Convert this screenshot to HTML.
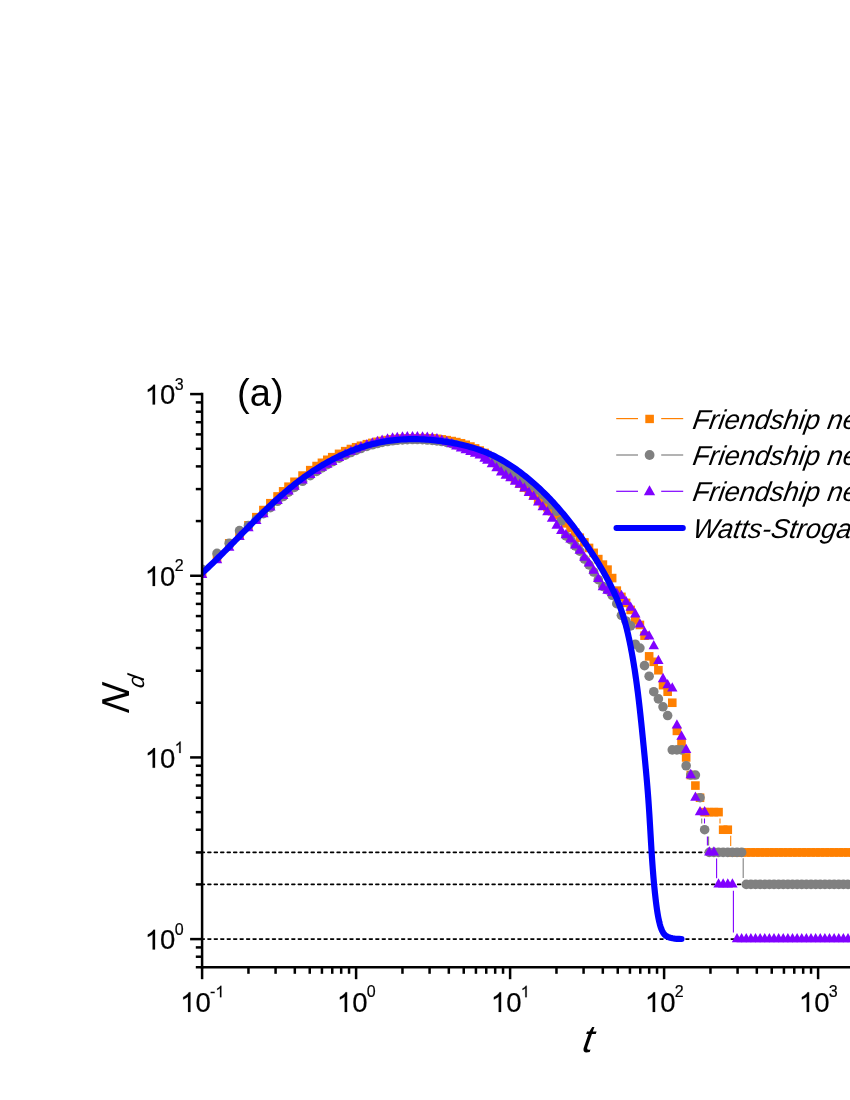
<!DOCTYPE html>
<html><head><meta charset="utf-8"><title>chart</title>
<style>html,body{margin:0;padding:0;background:#fff;overflow:hidden}svg{display:block;will-change:transform;opacity:0.999}</style></head>
<body>
<svg width="850" height="1100" viewBox="0 0 850 1100" font-family="'Liberation Sans', sans-serif">
<rect width="850" height="1100" fill="#fff"/>
<line x1="201.45" x2="850" y1="852.42" y2="852.42" stroke="#000" stroke-width="1.6" stroke-linecap="round" stroke-dasharray="2.9 3.56"/>
<line x1="201.45" x2="850" y1="884.41" y2="884.41" stroke="#000" stroke-width="1.6" stroke-linecap="round" stroke-dasharray="2.9 3.56"/>
<line x1="201.45" x2="850" y1="939.10" y2="939.10" stroke="#000" stroke-width="1.6" stroke-linecap="round" stroke-dasharray="2.9 3.56"/>
<defs><clipPath id="pc"><rect x="202.1" y="380" width="660" height="587.3"/></clipPath></defs>
<g clip-path="url(#pc)">
<line x1="720.0" x2="720.0" y1="818.5" y2="823.4" stroke="#FF8000" stroke-width="1.1"/>
<line x1="730.7" x2="730.7" y1="835.7" y2="846.0" stroke="#FF8000" stroke-width="1.1"/>
<line x1="701.7" x2="701.7" y1="818.5" y2="823.4" stroke="#808080" stroke-width="1.1"/>
<line x1="708.6" x2="708.6" y1="836.5" y2="845.5" stroke="#808080" stroke-width="1.1"/>
<line x1="743.2" x2="743.2" y1="858.3" y2="878.0" stroke="#808080" stroke-width="1.1"/>
<line x1="704.5" x2="704.5" y1="818.5" y2="823.4" stroke="#8000FF" stroke-width="1.1"/>
<line x1="707.4" x2="707.4" y1="836.5" y2="845.5" stroke="#8000FF" stroke-width="1.1"/>
<line x1="716.6" x2="716.6" y1="858.6" y2="878.2" stroke="#8000FF" stroke-width="1.1"/>
<line x1="733.4" x2="733.4" y1="890.8" y2="932.6" stroke="#8000FF" stroke-width="1.1"/>
<g fill="#FF8000">
<rect x="197.80" y="568.78" width="8.6" height="8.6"/>
<rect x="212.72" y="554.11" width="8.6" height="8.6"/>
<rect x="224.92" y="538.99" width="8.6" height="8.6"/>
<rect x="235.23" y="530.32" width="8.6" height="8.6"/>
<rect x="244.16" y="521.03" width="8.6" height="8.6"/>
<rect x="252.04" y="512.88" width="8.6" height="8.6"/>
<rect x="259.08" y="505.76" width="8.6" height="8.6"/>
<rect x="266.06" y="498.92" width="8.6" height="8.6"/>
<rect x="273.25" y="492.13" width="8.6" height="8.6"/>
<rect x="278.86" y="487.05" width="8.6" height="8.6"/>
<rect x="284.21" y="482.40" width="8.6" height="8.6"/>
<rect x="290.18" y="477.48" width="8.6" height="8.6"/>
<rect x="298.25" y="471.28" width="8.6" height="8.6"/>
<rect x="305.97" y="465.85" width="8.6" height="8.6"/>
<rect x="312.30" y="461.75" width="8.6" height="8.6"/>
<rect x="317.64" y="458.52" width="8.6" height="8.6"/>
<rect x="322.99" y="455.50" width="8.6" height="8.6"/>
<rect x="327.95" y="452.89" width="8.6" height="8.6"/>
<rect x="334.75" y="449.57" width="8.6" height="8.6"/>
<rect x="340.93" y="446.87" width="8.6" height="8.6"/>
<rect x="346.59" y="444.71" width="8.6" height="8.6"/>
<rect x="351.80" y="442.95" width="8.6" height="8.6"/>
<rect x="356.64" y="441.49" width="8.6" height="8.6"/>
<rect x="362.59" y="439.90" width="8.6" height="8.6"/>
<rect x="368.05" y="438.61" width="8.6" height="8.6"/>
<rect x="373.10" y="437.54" width="8.6" height="8.6"/>
<rect x="377.79" y="436.65" width="8.6" height="8.6"/>
<rect x="383.23" y="435.78" width="8.6" height="8.6"/>
<rect x="388.27" y="435.15" width="8.6" height="8.6"/>
<rect x="392.94" y="434.70" width="8.6" height="8.6"/>
<rect x="398.16" y="434.34" width="8.6" height="8.6"/>
<rect x="403.00" y="434.14" width="8.6" height="8.6"/>
<rect x="408.23" y="434.04" width="8.6" height="8.6"/>
<rect x="413.08" y="433.96" width="8.6" height="8.6"/>
<rect x="418.23" y="433.92" width="8.6" height="8.6"/>
<rect x="423.01" y="433.97" width="8.6" height="8.6"/>
<rect x="428.01" y="434.16" width="8.6" height="8.6"/>
<rect x="432.66" y="434.52" width="8.6" height="8.6"/>
<rect x="437.47" y="435.10" width="8.6" height="8.6"/>
<rect x="442.39" y="435.86" width="8.6" height="8.6"/>
<rect x="447.38" y="436.78" width="8.6" height="8.6"/>
<rect x="452.02" y="437.78" width="8.6" height="8.6"/>
<rect x="456.71" y="438.97" width="8.6" height="8.6"/>
<rect x="461.42" y="440.49" width="8.6" height="8.6"/>
<rect x="466.12" y="442.25" width="8.6" height="8.6"/>
<rect x="470.79" y="444.16" width="8.6" height="8.6"/>
<rect x="475.43" y="446.29" width="8.6" height="8.6"/>
<rect x="480.25" y="448.63" width="8.6" height="8.6"/>
<rect x="482.97" y="450.78" width="8.6" height="8.6"/>
<rect x="487.60" y="454.60" width="8.6" height="8.6"/>
<rect x="492.22" y="458.63" width="8.6" height="8.6"/>
<rect x="496.85" y="462.72" width="8.6" height="8.6"/>
<rect x="501.47" y="466.88" width="8.6" height="8.6"/>
<rect x="506.10" y="471.08" width="8.6" height="8.6"/>
<rect x="510.72" y="475.22" width="8.6" height="8.6"/>
<rect x="515.35" y="479.29" width="8.6" height="8.6"/>
<rect x="519.98" y="483.31" width="8.6" height="8.6"/>
<rect x="524.60" y="487.30" width="8.6" height="8.6"/>
<rect x="529.23" y="491.26" width="8.6" height="8.6"/>
<rect x="533.85" y="495.19" width="8.6" height="8.6"/>
<rect x="538.48" y="499.08" width="8.6" height="8.6"/>
<rect x="543.10" y="502.97" width="8.6" height="8.6"/>
<rect x="547.73" y="506.91" width="8.6" height="8.6"/>
<rect x="552.35" y="510.84" width="8.6" height="8.6"/>
<rect x="556.98" y="514.83" width="8.6" height="8.6"/>
<rect x="561.60" y="519.05" width="8.6" height="8.6"/>
<rect x="566.23" y="523.58" width="8.6" height="8.6"/>
<rect x="570.85" y="528.36" width="8.6" height="8.6"/>
<rect x="575.48" y="533.46" width="8.6" height="8.6"/>
<rect x="580.10" y="538.12" width="8.6" height="8.6"/>
<rect x="584.73" y="543.64" width="8.6" height="8.6"/>
<rect x="589.35" y="548.56" width="8.6" height="8.6"/>
<rect x="593.98" y="554.80" width="8.6" height="8.6"/>
<rect x="598.60" y="560.31" width="8.6" height="8.6"/>
<rect x="603.23" y="565.33" width="8.6" height="8.6"/>
<rect x="607.85" y="573.77" width="8.6" height="8.6"/>
<rect x="612.48" y="586.33" width="8.6" height="8.6"/>
<rect x="617.10" y="592.57" width="8.6" height="8.6"/>
<rect x="621.73" y="598.59" width="8.6" height="8.6"/>
<rect x="626.35" y="605.62" width="8.6" height="8.6"/>
<rect x="630.98" y="615.81" width="8.6" height="8.6"/>
<rect x="635.60" y="620.66" width="8.6" height="8.6"/>
<rect x="640.23" y="631.37" width="8.6" height="8.6"/>
<rect x="644.85" y="652.07" width="8.6" height="8.6"/>
<rect x="649.48" y="657.51" width="8.6" height="8.6"/>
<rect x="654.10" y="665.93" width="8.6" height="8.6"/>
<rect x="658.73" y="680.84" width="8.6" height="8.6"/>
<rect x="663.35" y="687.41" width="8.6" height="8.6"/>
<rect x="667.98" y="698.44" width="8.6" height="8.6"/>
<rect x="672.60" y="726.58" width="8.6" height="8.6"/>
<rect x="677.23" y="738.75" width="8.6" height="8.6"/>
<rect x="681.85" y="753.13" width="8.6" height="8.6"/>
<rect x="686.48" y="770.74" width="8.6" height="8.6"/>
<rect x="691.10" y="781.27" width="8.6" height="8.6"/>
<rect x="695.73" y="793.43" width="8.6" height="8.6"/>
<rect x="700.35" y="807.82" width="8.6" height="8.6"/>
<rect x="704.98" y="807.82" width="8.6" height="8.6"/>
<rect x="709.60" y="807.82" width="8.6" height="8.6"/>
<rect x="714.23" y="807.82" width="8.6" height="8.6"/>
<rect x="718.85" y="825.42" width="8.6" height="8.6"/>
<rect x="723.48" y="825.42" width="8.6" height="8.6"/>
<rect x="728.10" y="848.12" width="8.6" height="8.6"/>
<rect x="732.73" y="848.12" width="8.6" height="8.6"/>
<rect x="737.35" y="848.12" width="8.6" height="8.6"/>
<rect x="741.98" y="848.12" width="8.6" height="8.6"/>
<rect x="746.60" y="848.12" width="8.6" height="8.6"/>
<rect x="751.23" y="848.12" width="8.6" height="8.6"/>
<rect x="755.85" y="848.12" width="8.6" height="8.6"/>
<rect x="760.48" y="848.12" width="8.6" height="8.6"/>
<rect x="765.10" y="848.12" width="8.6" height="8.6"/>
<rect x="769.73" y="848.12" width="8.6" height="8.6"/>
<rect x="774.35" y="848.12" width="8.6" height="8.6"/>
<rect x="778.98" y="848.12" width="8.6" height="8.6"/>
<rect x="783.60" y="848.12" width="8.6" height="8.6"/>
<rect x="788.23" y="848.12" width="8.6" height="8.6"/>
<rect x="792.85" y="848.12" width="8.6" height="8.6"/>
<rect x="797.48" y="848.12" width="8.6" height="8.6"/>
<rect x="802.10" y="848.12" width="8.6" height="8.6"/>
<rect x="806.73" y="848.12" width="8.6" height="8.6"/>
<rect x="811.35" y="848.12" width="8.6" height="8.6"/>
<rect x="815.98" y="848.12" width="8.6" height="8.6"/>
<rect x="820.60" y="848.12" width="8.6" height="8.6"/>
<rect x="825.23" y="848.12" width="8.6" height="8.6"/>
<rect x="829.85" y="848.12" width="8.6" height="8.6"/>
<rect x="834.48" y="848.12" width="8.6" height="8.6"/>
<rect x="839.10" y="848.12" width="8.6" height="8.6"/>
<rect x="843.73" y="848.12" width="8.6" height="8.6"/>
<rect x="848.35" y="848.12" width="8.6" height="8.6"/>
<rect x="852.98" y="848.12" width="8.6" height="8.6"/>
</g>
<g fill="#808080">
<circle cx="202.10" cy="569.30" r="4.8"/>
<circle cx="217.02" cy="553.41" r="4.8"/>
<circle cx="229.22" cy="543.18" r="4.8"/>
<circle cx="239.53" cy="530.64" r="4.8"/>
<circle cx="248.46" cy="525.45" r="4.8"/>
<circle cx="256.34" cy="519.30" r="4.8"/>
<circle cx="263.38" cy="513.59" r="4.8"/>
<circle cx="270.36" cy="507.62" r="4.8"/>
<circle cx="277.55" cy="501.31" r="4.8"/>
<circle cx="283.16" cy="496.55" r="4.8"/>
<circle cx="288.51" cy="492.14" r="4.8"/>
<circle cx="294.48" cy="487.40" r="4.8"/>
<circle cx="302.55" cy="481.27" r="4.8"/>
<circle cx="310.27" cy="475.69" r="4.8"/>
<circle cx="316.60" cy="471.37" r="4.8"/>
<circle cx="321.94" cy="467.90" r="4.8"/>
<circle cx="327.29" cy="464.62" r="4.8"/>
<circle cx="332.25" cy="461.75" r="4.8"/>
<circle cx="339.05" cy="458.11" r="4.8"/>
<circle cx="345.23" cy="455.10" r="4.8"/>
<circle cx="350.89" cy="452.54" r="4.8"/>
<circle cx="356.10" cy="450.37" r="4.8"/>
<circle cx="360.94" cy="448.51" r="4.8"/>
<circle cx="366.89" cy="446.46" r="4.8"/>
<circle cx="372.35" cy="444.80" r="4.8"/>
<circle cx="377.40" cy="443.49" r="4.8"/>
<circle cx="382.09" cy="442.45" r="4.8"/>
<circle cx="387.53" cy="441.49" r="4.8"/>
<circle cx="392.57" cy="440.78" r="4.8"/>
<circle cx="397.24" cy="440.27" r="4.8"/>
<circle cx="402.46" cy="439.86" r="4.8"/>
<circle cx="407.30" cy="439.62" r="4.8"/>
<circle cx="412.53" cy="439.51" r="4.8"/>
<circle cx="417.38" cy="439.55" r="4.8"/>
<circle cx="422.53" cy="439.72" r="4.8"/>
<circle cx="427.31" cy="439.99" r="4.8"/>
<circle cx="432.31" cy="440.40" r="4.8"/>
<circle cx="436.96" cy="440.89" r="4.8"/>
<circle cx="441.77" cy="441.50" r="4.8"/>
<circle cx="446.69" cy="442.38" r="4.8"/>
<circle cx="451.68" cy="443.53" r="4.8"/>
<circle cx="456.32" cy="444.79" r="4.8"/>
<circle cx="461.01" cy="446.24" r="4.8"/>
<circle cx="465.72" cy="447.84" r="4.8"/>
<circle cx="470.42" cy="449.55" r="4.8"/>
<circle cx="475.09" cy="451.44" r="4.8"/>
<circle cx="479.73" cy="453.53" r="4.8"/>
<circle cx="484.55" cy="455.94" r="4.8"/>
<circle cx="487.27" cy="457.42" r="4.8"/>
<circle cx="491.90" cy="459.95" r="4.8"/>
<circle cx="496.52" cy="462.34" r="4.8"/>
<circle cx="501.15" cy="464.84" r="4.8"/>
<circle cx="505.77" cy="467.44" r="4.8"/>
<circle cx="510.40" cy="470.16" r="4.8"/>
<circle cx="515.02" cy="473.01" r="4.8"/>
<circle cx="519.65" cy="475.97" r="4.8"/>
<circle cx="524.27" cy="479.05" r="4.8"/>
<circle cx="528.90" cy="482.35" r="4.8"/>
<circle cx="533.52" cy="486.03" r="4.8"/>
<circle cx="538.15" cy="490.03" r="4.8"/>
<circle cx="542.77" cy="494.42" r="4.8"/>
<circle cx="547.40" cy="499.28" r="4.8"/>
<circle cx="552.02" cy="504.77" r="4.8"/>
<circle cx="556.65" cy="511.29" r="4.8"/>
<circle cx="561.27" cy="520.93" r="4.8"/>
<circle cx="565.90" cy="535.96" r="4.8"/>
<circle cx="570.52" cy="539.68" r="4.8"/>
<circle cx="575.15" cy="545.84" r="4.8"/>
<circle cx="579.77" cy="551.10" r="4.8"/>
<circle cx="584.40" cy="559.04" r="4.8"/>
<circle cx="589.02" cy="564.86" r="4.8"/>
<circle cx="593.65" cy="572.01" r="4.8"/>
<circle cx="598.27" cy="579.71" r="4.8"/>
<circle cx="602.90" cy="586.47" r="4.8"/>
<circle cx="607.52" cy="589.98" r="4.8"/>
<circle cx="612.15" cy="595.29" r="4.8"/>
<circle cx="616.77" cy="603.73" r="4.8"/>
<circle cx="621.40" cy="615.33" r="4.8"/>
<circle cx="626.02" cy="620.93" r="4.8"/>
<circle cx="630.65" cy="625.85" r="4.8"/>
<circle cx="635.27" cy="644.20" r="4.8"/>
<circle cx="639.90" cy="648.05" r="4.8"/>
<circle cx="644.52" cy="665.66" r="4.8"/>
<circle cx="649.15" cy="676.19" r="4.8"/>
<circle cx="653.77" cy="691.71" r="4.8"/>
<circle cx="658.40" cy="698.89" r="4.8"/>
<circle cx="663.02" cy="706.79" r="4.8"/>
<circle cx="667.65" cy="715.56" r="4.8"/>
<circle cx="672.27" cy="749.91" r="4.8"/>
<circle cx="676.90" cy="749.91" r="4.8"/>
<circle cx="681.52" cy="749.91" r="4.8"/>
<circle cx="686.15" cy="765.74" r="4.8"/>
<circle cx="690.77" cy="775.04" r="4.8"/>
<circle cx="695.40" cy="775.04" r="4.8"/>
<circle cx="700.02" cy="797.73" r="4.8"/>
<circle cx="704.65" cy="829.72" r="4.8"/>
<circle cx="709.27" cy="852.42" r="4.8"/>
<circle cx="713.90" cy="852.42" r="4.8"/>
<circle cx="718.52" cy="852.42" r="4.8"/>
<circle cx="723.15" cy="852.42" r="4.8"/>
<circle cx="727.77" cy="852.42" r="4.8"/>
<circle cx="732.40" cy="852.42" r="4.8"/>
<circle cx="737.02" cy="852.42" r="4.8"/>
<circle cx="741.65" cy="852.42" r="4.8"/>
<circle cx="746.27" cy="884.41" r="4.8"/>
<circle cx="750.90" cy="884.41" r="4.8"/>
<circle cx="755.52" cy="884.41" r="4.8"/>
<circle cx="760.15" cy="884.41" r="4.8"/>
<circle cx="764.77" cy="884.41" r="4.8"/>
<circle cx="769.40" cy="884.41" r="4.8"/>
<circle cx="774.02" cy="884.41" r="4.8"/>
<circle cx="778.65" cy="884.41" r="4.8"/>
<circle cx="783.27" cy="884.41" r="4.8"/>
<circle cx="787.90" cy="884.41" r="4.8"/>
<circle cx="792.52" cy="884.41" r="4.8"/>
<circle cx="797.15" cy="884.41" r="4.8"/>
<circle cx="801.77" cy="884.41" r="4.8"/>
<circle cx="806.40" cy="884.41" r="4.8"/>
<circle cx="811.02" cy="884.41" r="4.8"/>
<circle cx="815.65" cy="884.41" r="4.8"/>
<circle cx="820.27" cy="884.41" r="4.8"/>
<circle cx="824.90" cy="884.41" r="4.8"/>
<circle cx="829.52" cy="884.41" r="4.8"/>
<circle cx="834.15" cy="884.41" r="4.8"/>
<circle cx="838.77" cy="884.41" r="4.8"/>
<circle cx="843.40" cy="884.41" r="4.8"/>
<circle cx="848.02" cy="884.41" r="4.8"/>
<circle cx="852.65" cy="884.41" r="4.8"/>
<circle cx="857.27" cy="884.41" r="4.8"/>
</g>
<g fill="#8000FF">
<path d="M196.90,577.92L207.30,577.92L202.10,568.62Z"/>
<path d="M211.82,563.31L222.22,563.31L217.02,554.01Z"/>
<path d="M224.02,550.78L234.42,550.78L229.22,541.48Z"/>
<path d="M234.33,540.04L244.73,540.04L239.53,530.74Z"/>
<path d="M243.26,531.29L253.66,531.29L248.46,521.99Z"/>
<path d="M251.14,524.01L261.54,524.01L256.34,514.71Z"/>
<path d="M258.18,517.21L268.58,517.21L263.38,507.91Z"/>
<path d="M265.16,510.57L275.56,510.57L270.36,501.27Z"/>
<path d="M272.35,503.97L282.75,503.97L277.55,494.67Z"/>
<path d="M277.96,499.04L288.36,499.04L283.16,489.74Z"/>
<path d="M283.31,494.51L293.71,494.51L288.51,485.21Z"/>
<path d="M289.28,489.68L299.68,489.68L294.48,480.38Z"/>
<path d="M297.35,483.56L307.75,483.56L302.55,474.26Z"/>
<path d="M305.07,478.12L315.47,478.12L310.27,468.82Z"/>
<path d="M311.40,473.99L321.80,473.99L316.60,464.69Z"/>
<path d="M316.74,470.73L327.14,470.73L321.94,461.43Z"/>
<path d="M322.09,467.66L332.49,467.66L327.29,458.36Z"/>
<path d="M327.05,464.94L337.45,464.94L332.25,455.64Z"/>
<path d="M333.85,461.04L344.25,461.04L339.05,451.74Z"/>
<path d="M340.03,457.57L350.43,457.57L345.23,448.27Z"/>
<path d="M345.69,454.75L356.09,454.75L350.89,445.45Z"/>
<path d="M350.90,452.45L361.30,452.45L356.10,443.15Z"/>
<path d="M355.74,450.50L366.14,450.50L360.94,441.20Z"/>
<path d="M361.69,448.34L372.09,448.34L366.89,439.04Z"/>
<path d="M367.15,446.55L377.55,446.55L372.35,437.25Z"/>
<path d="M372.20,445.03L382.60,445.03L377.40,435.73Z"/>
<path d="M376.89,443.76L387.29,443.76L382.09,434.46Z"/>
<path d="M382.33,442.51L392.73,442.51L387.53,433.21Z"/>
<path d="M387.37,441.59L397.77,441.59L392.57,432.29Z"/>
<path d="M392.04,440.97L402.44,440.97L397.24,431.67Z"/>
<path d="M397.26,440.56L407.66,440.56L402.46,431.26Z"/>
<path d="M402.10,440.35L412.50,440.35L407.30,431.05Z"/>
<path d="M407.33,440.26L417.73,440.26L412.53,430.96Z"/>
<path d="M412.18,440.31L422.58,440.31L417.38,431.01Z"/>
<path d="M417.33,440.49L427.73,440.49L422.53,431.19Z"/>
<path d="M422.11,440.78L432.51,440.78L427.31,431.48Z"/>
<path d="M427.11,441.28L437.51,441.28L432.31,431.98Z"/>
<path d="M431.76,442.29L442.16,442.29L436.96,432.99Z"/>
<path d="M436.57,443.72L446.97,443.72L441.77,434.42Z"/>
<path d="M441.49,445.33L451.89,445.33L446.69,436.03Z"/>
<path d="M446.48,447.34L456.88,447.34L451.68,438.04Z"/>
<path d="M451.12,449.41L461.52,449.41L456.32,440.11Z"/>
<path d="M455.81,451.38L466.21,451.38L461.01,442.08Z"/>
<path d="M460.52,453.13L470.92,453.13L465.72,443.83Z"/>
<path d="M465.22,454.94L475.62,454.94L470.42,445.64Z"/>
<path d="M469.89,456.77L480.29,456.77L475.09,447.47Z"/>
<path d="M474.53,458.57L484.93,458.57L479.73,449.27Z"/>
<path d="M479.35,461.68L489.75,461.68L484.55,452.38Z"/>
<path d="M482.07,463.66L492.47,463.66L487.27,454.36Z"/>
<path d="M486.70,467.37L497.10,467.37L491.90,458.07Z"/>
<path d="M491.32,471.24L501.72,471.24L496.52,461.94Z"/>
<path d="M495.95,475.42L506.35,475.42L501.15,466.12Z"/>
<path d="M500.57,478.66L510.97,478.66L505.77,469.36Z"/>
<path d="M505.20,481.29L515.60,481.29L510.40,471.99Z"/>
<path d="M509.82,484.76L520.23,484.76L515.02,475.46Z"/>
<path d="M514.45,487.84L524.85,487.84L519.65,478.54Z"/>
<path d="M519.07,491.51L529.48,491.51L524.27,482.21Z"/>
<path d="M523.70,495.90L534.10,495.90L528.90,486.60Z"/>
<path d="M528.32,499.82L538.73,499.82L533.52,490.52Z"/>
<path d="M532.95,505.55L543.35,505.55L538.15,496.25Z"/>
<path d="M537.57,510.22L547.98,510.22L542.77,500.92Z"/>
<path d="M542.20,515.35L552.60,515.35L547.40,506.05Z"/>
<path d="M546.82,521.68L557.23,521.68L552.02,512.38Z"/>
<path d="M551.45,528.69L561.85,528.69L556.65,519.39Z"/>
<path d="M556.07,534.01L566.48,534.01L561.27,524.71Z"/>
<path d="M560.70,538.29L571.10,538.29L565.90,528.99Z"/>
<path d="M565.32,542.40L575.73,542.40L570.52,533.10Z"/>
<path d="M569.95,548.54L580.35,548.54L575.15,539.24Z"/>
<path d="M574.57,553.76L584.98,553.76L579.77,544.46Z"/>
<path d="M579.20,560.87L589.60,560.87L584.40,551.57Z"/>
<path d="M583.82,566.54L594.23,566.54L589.02,557.24Z"/>
<path d="M588.45,573.75L598.85,573.75L593.65,564.45Z"/>
<path d="M593.07,582.09L603.48,582.09L598.27,572.79Z"/>
<path d="M597.70,590.23L608.10,590.23L602.90,580.93Z"/>
<path d="M602.32,593.66L612.73,593.66L607.52,584.36Z"/>
<path d="M606.95,595.91L617.35,595.91L612.15,586.61Z"/>
<path d="M611.57,596.98L621.98,596.98L616.77,587.68Z"/>
<path d="M616.20,598.97L626.60,598.97L621.40,589.67Z"/>
<path d="M620.82,604.95L631.23,604.95L626.02,595.65Z"/>
<path d="M625.45,610.82L635.85,610.82L630.65,601.52Z"/>
<path d="M630.07,617.40L640.48,617.40L635.27,608.10Z"/>
<path d="M634.70,627.48L645.10,627.48L639.90,618.18Z"/>
<path d="M639.32,635.46L649.73,635.46L644.52,626.16Z"/>
<path d="M643.95,639.44L654.35,639.44L649.15,630.14Z"/>
<path d="M648.57,649.21L658.98,649.21L653.77,639.91Z"/>
<path d="M653.20,663.98L663.60,663.98L658.40,654.68Z"/>
<path d="M657.82,682.16L668.23,682.16L663.02,672.86Z"/>
<path d="M662.45,688.24L672.85,688.24L667.65,678.94Z"/>
<path d="M667.07,691.46L677.48,691.46L672.27,682.16Z"/>
<path d="M671.70,728.54L682.10,728.54L676.90,719.24Z"/>
<path d="M676.32,739.83L686.73,739.83L681.52,730.53Z"/>
<path d="M680.95,753.01L691.35,753.01L686.15,743.71Z"/>
<path d="M685.57,778.14L695.98,778.14L690.77,768.84Z"/>
<path d="M690.20,800.83L700.60,800.83L695.40,791.53Z"/>
<path d="M694.82,815.22L705.23,815.22L700.02,805.92Z"/>
<path d="M699.45,815.22L709.85,815.22L704.65,805.92Z"/>
<path d="M704.07,855.52L714.48,855.52L709.27,846.22Z"/>
<path d="M708.70,855.52L719.10,855.52L713.90,846.22Z"/>
<path d="M713.32,887.51L723.73,887.51L718.52,878.21Z"/>
<path d="M717.95,887.51L728.35,887.51L723.15,878.21Z"/>
<path d="M722.57,887.51L732.98,887.51L727.77,878.21Z"/>
<path d="M727.20,887.51L737.60,887.51L732.40,878.21Z"/>
<path d="M731.82,942.20L742.23,942.20L737.02,932.90Z"/>
<path d="M736.45,942.20L746.85,942.20L741.65,932.90Z"/>
<path d="M741.07,942.20L751.48,942.20L746.27,932.90Z"/>
<path d="M745.70,942.20L756.10,942.20L750.90,932.90Z"/>
<path d="M750.32,942.20L760.73,942.20L755.52,932.90Z"/>
<path d="M754.95,942.20L765.35,942.20L760.15,932.90Z"/>
<path d="M759.57,942.20L769.98,942.20L764.77,932.90Z"/>
<path d="M764.20,942.20L774.60,942.20L769.40,932.90Z"/>
<path d="M768.82,942.20L779.23,942.20L774.02,932.90Z"/>
<path d="M773.45,942.20L783.85,942.20L778.65,932.90Z"/>
<path d="M778.07,942.20L788.48,942.20L783.27,932.90Z"/>
<path d="M782.70,942.20L793.10,942.20L787.90,932.90Z"/>
<path d="M787.32,942.20L797.73,942.20L792.52,932.90Z"/>
<path d="M791.95,942.20L802.35,942.20L797.15,932.90Z"/>
<path d="M796.57,942.20L806.98,942.20L801.77,932.90Z"/>
<path d="M801.20,942.20L811.60,942.20L806.40,932.90Z"/>
<path d="M805.82,942.20L816.23,942.20L811.02,932.90Z"/>
<path d="M810.45,942.20L820.85,942.20L815.65,932.90Z"/>
<path d="M815.07,942.20L825.48,942.20L820.27,932.90Z"/>
<path d="M819.70,942.20L830.10,942.20L824.90,932.90Z"/>
<path d="M824.32,942.20L834.73,942.20L829.52,932.90Z"/>
<path d="M828.95,942.20L839.35,942.20L834.15,932.90Z"/>
<path d="M833.57,942.20L843.98,942.20L838.77,932.90Z"/>
<path d="M838.20,942.20L848.60,942.20L843.40,932.90Z"/>
<path d="M842.82,942.20L853.23,942.20L848.02,932.90Z"/>
<path d="M847.45,942.20L857.85,942.20L852.65,932.90Z"/>
<path d="M852.07,942.20L862.48,942.20L857.27,932.90Z"/>
</g>
<path d="M200.00,575.00 L201.67,573.49 L203.33,571.97 L204.98,570.44 L206.62,568.91 L208.26,567.37 L209.89,565.82 L211.51,564.27 L213.13,562.71 L214.74,561.14 L216.35,559.57 L217.95,558.00 L219.55,556.42 L221.14,554.83 L222.72,553.25 L224.31,551.66 L225.89,550.06 L227.47,548.47 L229.04,546.87 L230.61,545.27 L232.18,543.67 L233.75,542.06 L235.31,540.46 L236.88,538.85 L238.44,537.25 L240.01,535.64 L241.57,534.04 L243.13,532.44 L244.70,530.83 L246.26,529.23 L247.83,527.64 L249.40,526.04 L250.97,524.45 L252.54,522.86 L254.11,521.27 L255.69,519.69 L257.27,518.11 L258.86,516.54 L260.45,514.97 L262.04,513.40 L263.64,511.84 L265.24,510.29 L266.84,508.75 L268.46,507.21 L270.08,505.68 L271.70,504.15 L273.33,502.63 L274.97,501.12 L276.62,499.62 L278.27,498.13 L279.93,496.65 L281.60,495.18 L283.28,493.71 L284.97,492.26 L286.66,490.82 L288.37,489.39 L290.09,487.97 L291.81,486.56 L293.55,485.17 L295.30,483.78 L297.06,482.41 L298.83,481.06 L300.61,479.71 L302.41,478.38 L304.22,477.07 L306.04,475.76 L307.87,474.48 L309.72,473.21 L311.58,471.95 L313.46,470.71 L315.35,469.49 L317.25,468.29 L319.17,467.10 L321.10,465.93 L323.05,464.77 L325.01,463.64 L326.98,462.53 L328.96,461.43 L330.96,460.36 L332.97,459.31 L334.98,458.28 L337.01,457.27 L339.05,456.28 L341.10,455.32 L343.17,454.38 L345.24,453.46 L347.32,452.57 L349.41,451.70 L351.51,450.86 L353.61,450.04 L355.73,449.25 L357.86,448.49 L359.99,447.75 L362.13,447.04 L364.27,446.37 L366.43,445.71 L368.59,445.09 L370.76,444.50 L372.93,443.94 L375.11,443.41 L377.29,442.91 L379.48,442.44 L381.68,442.00 L383.88,441.60 L386.08,441.23 L388.29,440.89 L390.50,440.59 L392.71,440.31 L394.93,440.07 L397.15,439.85 L399.37,439.67 L401.59,439.51 L403.82,439.39 L406.05,439.29 L408.28,439.22 L410.51,439.18 L412.74,439.16 L414.97,439.17 L417.20,439.21 L419.43,439.27 L421.66,439.35 L423.89,439.47 L426.12,439.60 L428.35,439.76 L430.57,439.94 L432.80,440.15 L435.02,440.37 L437.24,440.62 L439.45,440.89 L441.66,441.18 L443.87,441.49 L446.08,441.82 L448.28,442.16 L450.48,442.53 L452.67,442.92 L454.85,443.33 L457.04,443.77 L459.21,444.22 L461.38,444.71 L463.54,445.21 L465.70,445.75 L467.84,446.30 L469.99,446.89 L472.12,447.51 L474.24,448.15 L476.36,448.83 L478.46,449.53 L480.56,450.27 L482.65,451.04 L484.72,451.85 L486.79,452.69 L488.85,453.56 L490.89,454.47 L492.92,455.42 L494.95,456.41 L496.96,457.43 L498.95,458.49 L500.93,459.58 L502.90,460.70 L504.86,461.86 L506.80,463.05 L508.73,464.26 L510.65,465.51 L512.54,466.77 L514.43,468.07 L516.29,469.38 L518.14,470.72 L519.98,472.08 L521.80,473.46 L523.60,474.86 L525.38,476.27 L527.15,477.70 L528.89,479.14 L530.62,480.60 L532.33,482.06 L534.02,483.54 L535.70,485.03 L537.35,486.54 L538.99,488.05 L540.62,489.58 L542.23,491.12 L543.82,492.67 L545.39,494.23 L546.95,495.80 L548.50,497.38 L550.03,498.98 L551.55,500.59 L553.05,502.20 L554.54,503.83 L556.02,505.47 L557.48,507.12 L558.93,508.78 L560.37,510.45 L561.80,512.14 L563.22,513.83 L564.62,515.53 L566.02,517.24 L567.40,518.97 L568.78,520.70 L570.14,522.44 L571.50,524.20 L572.85,525.96 L574.19,527.73 L575.52,529.52 L576.84,531.31 L578.16,533.11 L579.46,534.92 L580.77,536.74 L582.06,538.57 L583.35,540.41 L584.63,542.26 L585.91,544.12 L587.18,545.98 L588.45,547.86 L589.71,549.74 L590.96,551.63 L592.21,553.53 L593.45,555.44 L594.67,557.36 L595.89,559.28 L597.09,561.22 L598.29,563.16 L599.47,565.11 L600.64,567.06 L601.80,569.03 L602.94,571.00 L604.07,572.98 L605.18,574.96 L606.28,576.96 L607.36,578.96 L608.42,580.96 L609.46,582.98 L610.49,585.00 L611.49,587.03 L612.48,589.06 L613.45,591.10 L614.39,593.15 L615.31,595.20 L616.21,597.26 L617.09,599.32 L617.94,601.39 L618.77,603.47 L619.57,605.55 L620.34,607.64 L621.09,609.73 L621.81,611.83 L622.51,613.93 L623.18,616.04 L623.82,618.15 L624.45,620.27 L625.05,622.39 L625.63,624.52 L626.18,626.65 L626.73,628.79 L627.25,630.93 L627.75,633.07 L628.25,635.22 L628.72,637.37 L629.19,639.53 L629.64,641.69 L630.08,643.85 L630.51,646.02 L630.94,648.19 L631.35,650.37 L631.75,652.54 L632.15,654.72 L632.54,656.91 L632.92,659.10 L633.29,661.29 L633.66,663.48 L634.01,665.67 L634.36,667.87 L634.71,670.07 L635.04,672.28 L635.37,674.49 L635.69,676.69 L636.01,678.91 L636.32,681.12 L636.63,683.34 L636.93,685.55 L637.22,687.77 L637.51,690.00 L637.79,692.22 L638.07,694.45 L638.34,696.68 L638.61,698.91 L638.88,701.14 L639.14,703.37 L639.39,705.61 L639.65,707.84 L639.90,710.08 L640.14,712.32 L640.39,714.56 L640.63,716.80 L640.87,719.05 L641.10,721.29 L641.34,723.54 L641.57,725.78 L641.80,728.03 L642.03,730.28 L642.25,732.52 L642.48,734.77 L642.70,737.02 L642.93,739.27 L643.15,741.52 L643.37,743.77 L643.60,746.02 L643.82,748.27 L644.04,750.53 L644.26,752.78 L644.48,755.03 L644.70,757.28 L644.91,759.53 L645.13,761.78 L645.34,764.03 L645.55,766.28 L645.76,768.53 L645.97,770.78 L646.18,773.03 L646.38,775.28 L646.58,777.52 L646.78,779.77 L646.97,782.01 L647.16,784.26 L647.35,786.50 L647.53,788.74 L647.71,790.99 L647.89,793.22 L648.06,795.46 L648.23,797.70 L648.39,799.94 L648.55,802.17 L648.70,804.40 L648.85,806.63 L649.00,808.86 L649.15,811.09 L649.29,813.32 L649.43,815.55 L649.57,817.77 L649.70,820.00 L649.83,822.22 L649.97,824.44 L650.10,826.67 L650.23,828.89 L650.36,831.11 L650.49,833.33 L650.62,835.55 L650.75,837.77 L650.88,839.99 L651.01,842.21 L651.14,844.43 L651.28,846.65 L651.41,848.87 L651.55,851.09 L651.69,853.31 L651.84,855.53 L651.98,857.75 L652.13,859.97 L652.29,862.19 L652.45,864.42 L652.61,866.64 L652.77,868.86 L652.95,871.09 L653.12,873.31 L653.30,875.54 L653.49,877.76 L653.69,879.99 L653.89,882.22 L654.09,884.45 L654.31,886.68 L654.53,888.92 L654.76,891.15 L654.99,893.39 L655.24,895.62 L655.49,897.86 L655.75,900.10 L656.02,902.35 L656.30,904.59 L656.60,906.83 L656.91,909.07 L657.24,911.31 L657.59,913.54 L657.98,915.76 L658.40,917.97 L658.86,920.17 L659.36,922.35 L659.91,924.52 L660.54,926.66 L661.27,928.78 L662.14,930.86 L663.22,932.84 L664.58,934.65 L666.26,936.07 L668.24,937.08 L670.38,937.80 L672.58,938.31 L674.80,938.66 L677.03,938.86 L679.26,938.94 L681.50,939.00" fill="none" stroke="#0000FF" stroke-width="6.2" stroke-linecap="round" stroke-linejoin="round"/>
</g>
<g stroke="#000" stroke-width="2.5" fill="none">
<line x1="202.1" x2="202.1" y1="392.85" y2="968.55"/>
<line x1="200.85" x2="850" y1="967.3" y2="967.3"/>
<line x1="190.1" x2="202.1" y1="939.10" y2="939.10"/>
<line x1="190.1" x2="202.1" y1="757.43" y2="757.43"/>
<line x1="190.1" x2="202.1" y1="575.76" y2="575.76"/>
<line x1="190.1" x2="202.1" y1="394.09" y2="394.09"/>
<line x1="195.79999999999998" x2="202.1" y1="967.24" y2="967.24"/>
<line x1="195.79999999999998" x2="202.1" y1="956.71" y2="956.71"/>
<line x1="195.79999999999998" x2="202.1" y1="947.41" y2="947.41"/>
<line x1="195.79999999999998" x2="202.1" y1="884.41" y2="884.41"/>
<line x1="195.79999999999998" x2="202.1" y1="852.42" y2="852.42"/>
<line x1="195.79999999999998" x2="202.1" y1="829.72" y2="829.72"/>
<line x1="195.79999999999998" x2="202.1" y1="812.12" y2="812.12"/>
<line x1="195.79999999999998" x2="202.1" y1="797.73" y2="797.73"/>
<line x1="195.79999999999998" x2="202.1" y1="785.57" y2="785.57"/>
<line x1="195.79999999999998" x2="202.1" y1="775.04" y2="775.04"/>
<line x1="195.79999999999998" x2="202.1" y1="765.74" y2="765.74"/>
<line x1="195.79999999999998" x2="202.1" y1="702.74" y2="702.74"/>
<line x1="195.79999999999998" x2="202.1" y1="670.75" y2="670.75"/>
<line x1="195.79999999999998" x2="202.1" y1="648.05" y2="648.05"/>
<line x1="195.79999999999998" x2="202.1" y1="630.45" y2="630.45"/>
<line x1="195.79999999999998" x2="202.1" y1="616.06" y2="616.06"/>
<line x1="195.79999999999998" x2="202.1" y1="603.90" y2="603.90"/>
<line x1="195.79999999999998" x2="202.1" y1="593.37" y2="593.37"/>
<line x1="195.79999999999998" x2="202.1" y1="584.07" y2="584.07"/>
<line x1="195.79999999999998" x2="202.1" y1="521.07" y2="521.07"/>
<line x1="195.79999999999998" x2="202.1" y1="489.08" y2="489.08"/>
<line x1="195.79999999999998" x2="202.1" y1="466.38" y2="466.38"/>
<line x1="195.79999999999998" x2="202.1" y1="448.78" y2="448.78"/>
<line x1="195.79999999999998" x2="202.1" y1="434.39" y2="434.39"/>
<line x1="195.79999999999998" x2="202.1" y1="422.23" y2="422.23"/>
<line x1="195.79999999999998" x2="202.1" y1="411.70" y2="411.70"/>
<line x1="195.79999999999998" x2="202.1" y1="402.40" y2="402.40"/>
<line x1="202.10" x2="202.10" y1="967.3" y2="979.1999999999999"/>
<line x1="356.10" x2="356.10" y1="967.3" y2="979.1999999999999"/>
<line x1="510.10" x2="510.10" y1="967.3" y2="979.1999999999999"/>
<line x1="664.10" x2="664.10" y1="967.3" y2="979.1999999999999"/>
<line x1="818.10" x2="818.10" y1="967.3" y2="979.1999999999999"/>
<line x1="248.46" x2="248.46" y1="967.3" y2="973.8"/>
<line x1="275.58" x2="275.58" y1="967.3" y2="973.8"/>
<line x1="294.82" x2="294.82" y1="967.3" y2="973.8"/>
<line x1="309.74" x2="309.74" y1="967.3" y2="973.8"/>
<line x1="321.94" x2="321.94" y1="967.3" y2="973.8"/>
<line x1="332.25" x2="332.25" y1="967.3" y2="973.8"/>
<line x1="341.18" x2="341.18" y1="967.3" y2="973.8"/>
<line x1="349.05" x2="349.05" y1="967.3" y2="973.8"/>
<line x1="402.46" x2="402.46" y1="967.3" y2="973.8"/>
<line x1="429.58" x2="429.58" y1="967.3" y2="973.8"/>
<line x1="448.82" x2="448.82" y1="967.3" y2="973.8"/>
<line x1="463.74" x2="463.74" y1="967.3" y2="973.8"/>
<line x1="475.94" x2="475.94" y1="967.3" y2="973.8"/>
<line x1="486.25" x2="486.25" y1="967.3" y2="973.8"/>
<line x1="495.18" x2="495.18" y1="967.3" y2="973.8"/>
<line x1="503.05" x2="503.05" y1="967.3" y2="973.8"/>
<line x1="556.46" x2="556.46" y1="967.3" y2="973.8"/>
<line x1="583.58" x2="583.58" y1="967.3" y2="973.8"/>
<line x1="602.82" x2="602.82" y1="967.3" y2="973.8"/>
<line x1="617.74" x2="617.74" y1="967.3" y2="973.8"/>
<line x1="629.94" x2="629.94" y1="967.3" y2="973.8"/>
<line x1="640.25" x2="640.25" y1="967.3" y2="973.8"/>
<line x1="649.18" x2="649.18" y1="967.3" y2="973.8"/>
<line x1="657.05" x2="657.05" y1="967.3" y2="973.8"/>
<line x1="710.46" x2="710.46" y1="967.3" y2="973.8"/>
<line x1="737.58" x2="737.58" y1="967.3" y2="973.8"/>
<line x1="756.82" x2="756.82" y1="967.3" y2="973.8"/>
<line x1="771.74" x2="771.74" y1="967.3" y2="973.8"/>
<line x1="783.94" x2="783.94" y1="967.3" y2="973.8"/>
<line x1="794.25" x2="794.25" y1="967.3" y2="973.8"/>
<line x1="803.18" x2="803.18" y1="967.3" y2="973.8"/>
<line x1="811.05" x2="811.05" y1="967.3" y2="973.8"/>
</g>
<g font-size="27.5" fill="#000" stroke="#000" stroke-width="0.2">
<path d="M155.04,949.40L152.64,949.40L152.64,934.00Q151.68,935.04 150.25,935.81T147.80,936.91L147.80,934.58Q149.83,933.59 151.37,932.24T153.49,929.71L155.04,929.71Z"/><text x="160.09" y="949.40">0</text><text x="174.68" y="934.70" font-size="16">0</text>
<path d="M155.04,767.73L152.64,767.73L152.64,752.33Q151.68,753.38 150.25,754.14T147.80,755.25L147.80,752.91Q149.83,751.92 151.37,750.57T153.49,748.04L155.04,748.04Z"/><text x="160.09" y="767.73">0</text><path d="M180.64,753.03L179.24,753.03L179.24,744.07Q178.68,744.68 177.85,745.13T176.42,745.77L176.42,744.41Q177.61,743.83 178.50,743.05T179.74,741.57L180.64,741.57Z"/>
<path d="M155.04,586.06L152.64,586.06L152.64,570.66Q151.68,571.70 150.25,572.47T147.80,573.57L147.80,571.24Q149.83,570.25 151.37,568.90T153.49,566.37L155.04,566.37Z"/><text x="160.09" y="586.06">0</text><text x="174.68" y="571.36" font-size="16">2</text>
<path d="M155.04,404.39L152.64,404.39L152.64,388.99Q151.68,390.04 150.25,390.81T147.80,391.91L147.80,389.57Q149.83,388.58 151.37,387.23T153.49,384.70L155.04,384.70Z"/><text x="160.09" y="404.39">0</text><text x="174.68" y="389.69" font-size="16">3</text>
<path d="M190.44,1011.90L188.04,1011.90L188.04,996.50Q187.07,997.54 185.64,998.31T183.20,999.41L183.20,997.08Q185.23,996.09 186.77,994.74T188.89,992.21L190.44,992.21Z"/><text x="195.49" y="1011.90">0</text><text x="210.08" y="997.20" font-size="16">-</text><path d="M221.37,997.20L219.97,997.20L219.97,988.24Q219.41,988.85 218.57,989.30T217.15,989.94L217.15,988.58Q218.33,988.00 219.23,987.22T220.46,985.74L221.37,985.74Z"/>
<path d="M347.11,1011.90L344.70,1011.90L344.70,996.50Q343.74,997.54 342.31,998.31T339.86,999.41L339.86,997.08Q341.89,996.09 343.43,994.74T345.55,992.21L347.11,992.21Z"/><text x="352.15" y="1011.90">0</text><text x="366.74" y="997.20" font-size="16">0</text>
<path d="M501.11,1011.90L498.70,1011.90L498.70,996.50Q497.74,997.54 496.31,998.31T493.86,999.41L493.86,997.08Q495.89,996.09 497.43,994.74T499.55,992.21L501.11,992.21Z"/><text x="506.15" y="1011.90">0</text><path d="M526.70,997.20L525.30,997.20L525.30,988.24Q524.74,988.85 523.91,989.30T522.49,989.94L522.49,988.58Q523.67,988.00 524.57,987.22T525.80,985.74L526.70,985.74Z"/>
<path d="M655.11,1011.90L652.70,1011.90L652.70,996.50Q651.74,997.54 650.31,998.31T647.86,999.41L647.86,997.08Q649.89,996.09 651.43,994.74T653.55,992.21L655.11,992.21Z"/><text x="660.15" y="1011.90">0</text><text x="674.74" y="997.20" font-size="16">2</text>
<path d="M809.11,1011.90L806.70,1011.90L806.70,996.50Q805.74,997.54 804.31,998.31T801.86,999.41L801.86,997.08Q803.89,996.09 805.43,994.74T807.55,992.21L809.11,992.21Z"/><text x="814.15" y="1011.90">0</text><text x="828.74" y="997.20" font-size="16">3</text>
</g>
<text x="237.1" y="405.9" font-size="38">(a)</text>
<text transform="translate(581.3,1051.6) skewX(-9)" font-size="38.8" font-style="italic">t</text>
<text transform="translate(128.5,714.2) rotate(-90) skewX(-9)" font-size="39" font-style="italic">N<tspan font-size="23" dy="15.1" dx="-0.2">d</tspan></text>
<line x1="616.2" x2="638.0" y1="418.6" y2="418.6" stroke="#FF8000" stroke-width="1.2"/>
<line x1="661.2" x2="683.2" y1="418.6" y2="418.6" stroke="#FF8000" stroke-width="1.2"/>
<line x1="616.2" x2="638.0" y1="455.0" y2="455.0" stroke="#808080" stroke-width="1.2"/>
<line x1="661.2" x2="683.2" y1="455.0" y2="455.0" stroke="#808080" stroke-width="1.2"/>
<line x1="616.2" x2="638.0" y1="491.3" y2="491.3" stroke="#8000FF" stroke-width="1.2"/>
<line x1="661.2" x2="683.2" y1="491.3" y2="491.3" stroke="#8000FF" stroke-width="1.2"/>
<rect x="645.30" y="414.75" width="8.6" height="8.4" fill="#FF8000"/>
<circle cx="649.6" cy="455.0" r="4.8999999999999995" fill="#808080"/>
<path d="M643.85,495.15L655.15,495.15L649.50,485.25Z" fill="#8000FF"/>
<line x1="616.5" x2="682.8" y1="527.95" y2="527.95" stroke="#0000FF" stroke-width="6.0" stroke-linecap="round"/>
<g font-size="27.27" font-style="italic" fill="#000">
<text transform="translate(691.7,428.6) skewX(-9)">Friendship network</text>
<text transform="translate(691.7,465.0) skewX(-9)">Friendship network</text>
<text transform="translate(691.7,501.4) skewX(-9)">Friendship network</text>
<text transform="translate(691.7,537.8) skewX(-9)">Watts-Strogatz network</text>
</g>
</svg>
</body></html>
